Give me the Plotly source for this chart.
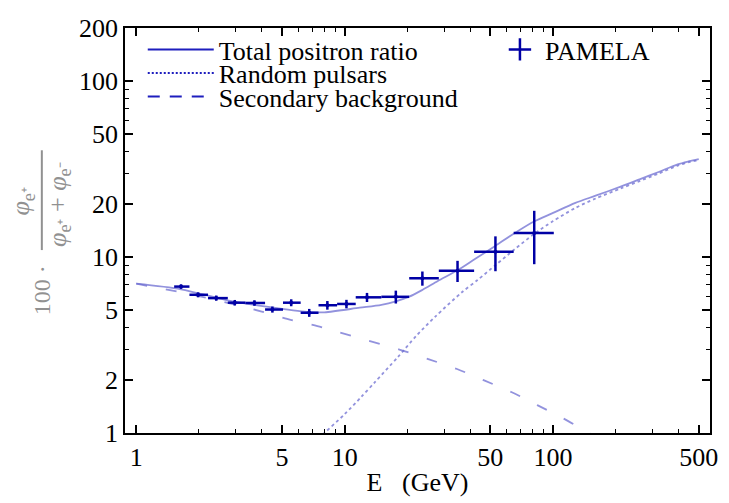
import plotly.graph_objects as go

# ---------------- data ----------------
# Total positron ratio (model curve)
E_total = [1, 1.64, 2.78, 4.3, 6.6, 8, 11.8, 15, 17.6, 20.4, 23.6, 28, 34.8, 42, 53, 65, 81, 100, 128, 160, 211, 260, 321, 396, 450, 500]
ratio_total = [7.05, 6.55, 5.65, 5.2, 4.87, 4.85, 5.15, 5.35, 5.6, 5.95, 6.5, 7.3, 8.4, 9.7, 11.6, 13.6, 15.9, 17.8, 20.3, 22.3, 25.1, 27.6, 30.4, 33.6, 35.0, 36.0]

# Random pulsars contribution
E_pulsar = [7.5, 8.0, 10, 12, 14, 18, 22, 27.3, 36.5, 43.4, 53, 65, 81, 100, 128, 160, 211, 260, 321, 396, 450, 500]
ratio_pulsar = [0.93, 1.0, 1.28, 1.6, 1.95, 2.7, 3.55, 4.6, 6.3, 7.4, 9.0, 11.0, 13.5, 16.0, 19.0, 21.5, 24.5, 27.0, 29.8, 33.0, 34.6, 35.5]

# Secondary background
E_bg = [1, 2, 3, 4, 5.3, 7.4, 9.5, 13, 18.3, 25.4, 34.6, 46.7, 63, 84, 112, 142, 160]
ratio_bg = [7.05, 6.0, 5.35, 4.9, 4.45, 4.05, 3.72, 3.35, 2.98, 2.62, 2.31, 1.99, 1.71, 1.44, 1.21, 1.03, 0.95]

# PAMELA data points
E_pam = [1.64, 1.98, 2.42, 2.97, 3.69, 4.50, 5.54, 6.76, 8.26, 10.2, 12.8, 17.6, 23.6, 34.8, 52.9, 81.2]
E_pam_lo = [1.52, 1.80, 2.21, 2.75, 3.34, 4.15, 5.06, 6.15, 7.49, 9.2, 11.3, 15.0, 20.4, 28.3, 41.8, 64.7]
E_pam_hi = [1.80, 2.21, 2.75, 3.34, 4.15, 5.06, 6.15, 7.49, 9.2, 11.3, 15.0, 20.4, 28.3, 41.8, 64.7, 100.8]
ratio_pam = [6.79, 6.10, 5.84, 5.50, 5.48, 5.03, 5.50, 4.82, 5.32, 5.41, 5.90, 5.94, 7.57, 8.36, 10.7, 13.7]
err_pam = [0.2, 0.2, 0.2, 0.2, 0.2, 0.2, 0.25, 0.25, 0.3, 0.3, 0.35, 0.5, 0.7, 1.15, 2.4, 4.6]

x_ticks = [1, 5, 10, 50, 100, 500]
x_minor = [2, 3, 4, 6, 7, 8, 9, 20, 30, 40, 60, 70, 80, 90, 200, 300, 400]
y_ticks = [1, 2, 5, 10, 20, 50, 100, 200]
y_minor = [3, 4, 6, 7, 8, 9, 30, 40, 60, 70, 80, 90]

# ---------------- styling ----------------
FONT = "Liberation Serif"
CURVE = "rgba(110,110,210,0.75)"
LEG = "rgb(30,30,190)"
PTS = "rgb(0,0,165)"

fig = go.Figure()

fig.add_trace(go.Scatter(x=E_total, y=ratio_total, mode="lines",
                         line=dict(color=CURVE, width=1.8, shape="spline", smoothing=0.8),
                         showlegend=False))
fig.add_trace(go.Scatter(x=E_pulsar, y=ratio_pulsar, mode="lines",
                         line=dict(color=CURVE, width=1.8, dash="dot", shape="spline", smoothing=0.8),
                         showlegend=False))
fig.add_trace(go.Scatter(x=E_bg, y=ratio_bg, mode="lines",
                         line=dict(color=CURVE, width=1.8, dash="11px,19px", shape="spline", smoothing=0.8),
                         showlegend=False))

fig.add_trace(go.Scatter(
    x=E_pam, y=ratio_pam, mode="markers",
    marker=dict(color=PTS, size=4),
    error_x=dict(type="data", symmetric=False,
                 array=[h - c for h, c in zip(E_pam_hi, E_pam)],
                 arrayminus=[c - l for c, l in zip(E_pam, E_pam_lo)],
                 color=PTS, thickness=2.5, width=0),
    error_y=dict(type="data", array=err_pam, color=PTS, thickness=2.5, width=0),
    showlegend=False))

# legend entries
fig.add_trace(go.Scatter(x=[None], y=[None], mode="lines", name="Total positron ratio",
                         line=dict(color=LEG, width=2), legend="legend"))
fig.add_trace(go.Scatter(x=[None], y=[None], mode="lines", name="Random pulsars",
                         line=dict(color=LEG, width=2, dash="2px,2px"), legend="legend2"))
fig.add_trace(go.Scatter(x=[None], y=[None], mode="lines", name="Secondary background",
                         line=dict(color=LEG, width=2, dash="12px,10px"), legend="legend3"))
fig.add_trace(go.Scatter(x=[None], y=[None], mode="markers", name="PAMELA",
                         marker=dict(color=PTS, symbol="cross-thin", size=16, line=dict(color=PTS, width=2.5)),
                         legend="legend4"))

L, R, T, B = 125, 11, 28, 61
W, H = 729, 503
pw, ph = W - L - R, H - T - B


def px(xp):
    return (xp - L) / pw


def py(yp):
    return (H - B - yp) / ph


leg_common = dict(font=dict(family=FONT, size=26, color="black"), bgcolor="rgba(0,0,0,0)",
                  borderwidth=0, xanchor="left", yanchor="middle")

fig.update_layout(
    width=W, height=H,
    margin=dict(l=L, r=R, t=T, b=B),
    paper_bgcolor="white", plot_bgcolor="white",
    font=dict(family=FONT, size=26, color="black"),
    legend=dict(x=px(143), y=py(50), itemwidth=66, **leg_common),
    legend2=dict(x=px(143), y=py(74), itemwidth=66, **leg_common),
    legend3=dict(x=px(143), y=py(98), itemwidth=66, **leg_common),
    legend4=dict(x=px(500), y=py(50), itemwidth=40, **leg_common),
)

axis_common = dict(
    type="log", tickmode="array", ticks="inside", ticklen=8, tickwidth=1.5, tickcolor="black",
    showline=True, linecolor="black", linewidth=1.5, mirror="allticks",
    showgrid=False, zeroline=False,
    tickfont=dict(family=FONT, size=26, color="black"),
)

fig.update_xaxes(range=[-0.054, 2.753], tickvals=x_ticks, ticktext=[str(v) for v in x_ticks],
                 minor=dict(tickmode="array", tickvals=x_minor, ticks="inside", ticklen=4,
                            tickwidth=1, tickcolor="black", showgrid=False),
                 title=dict(text="E\u00a0\u00a0\u00a0(GeV)", font=dict(family=FONT, size=26), standoff=2),
                 **axis_common)
fig.update_yaxes(range=[0, 2.30103], tickvals=y_ticks, ticktext=[str(v) for v in y_ticks],
                 minor=dict(tickmode="array", tickvals=y_minor, ticks="inside", ticklen=4,
                            tickwidth=1, tickcolor="black", showgrid=False),
                 **axis_common)

# y-axis title as a rotated fraction
GRAY = "rgb(145,145,145)"
ann_common = dict(xref="paper", yref="paper", showarrow=False, textangle=-90,
                  xanchor="center", yanchor="middle")
fig.add_annotation(text="100 ·", x=px(41), y=py(296), font=dict(family=FONT, size=24, color=GRAY), **ann_common)
fig.add_annotation(text="<i>φ</i><sub>e⁺</sub>", x=px(21), y=py(205),
                   font=dict(family=FONT, size=26, color=GRAY), **ann_common)
fig.add_annotation(text="<i>φ</i><sub>e⁺</sub> + <i>φ</i><sub>e⁻</sub>", x=px(58), y=py(208),
                   font=dict(family=FONT, size=26, color=GRAY), **ann_common)
fig.add_shape(type="line", xref="paper", yref="paper", x0=px(40.7), x1=px(40.7), y0=py(153), y1=py(255),
              line=dict(color=GRAY, width=2))

fig.write_html("out.html")
